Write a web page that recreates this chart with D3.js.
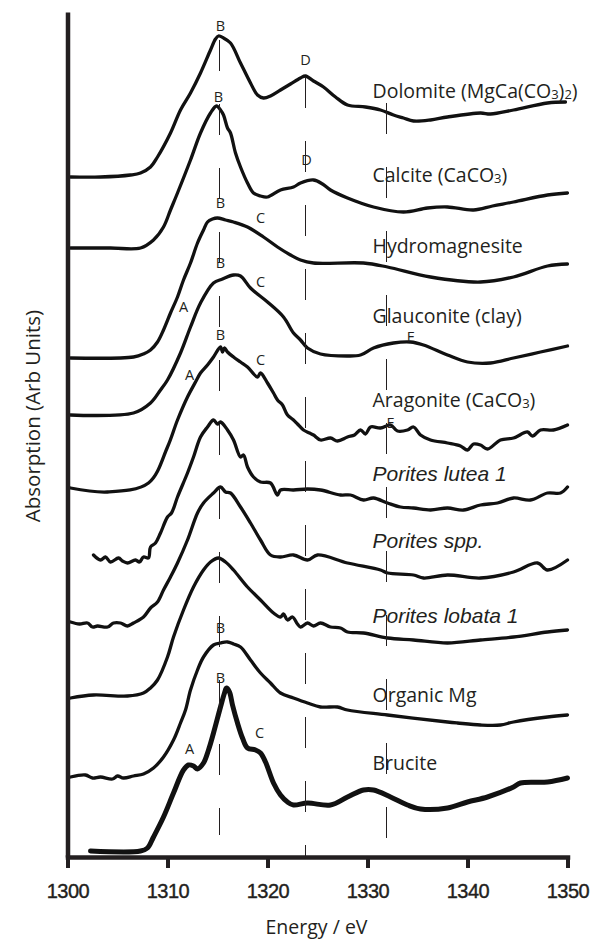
<!DOCTYPE html>
<html>
<head>
<meta charset="utf-8">
<script src="https://cdn.jsdelivr.net/npm/d3@7"></script>
<style>
    html, body { margin: 0; padding: 0; background: #fff; }
    svg { display: block; }
</style>
</head>
<body>
<svg id="chart" width="592" height="939"></svg>
<script>
// Mg K-edge XANES spectra, stacked with offsets (absorption in arb. units).
const energyDomain = [1300, 1350];
const absorptionDomain = [0, 8.45];
const tickValues = [1300, 1310, 1320, 1330, 1340, 1350];

const dolomite = [[1300.3,6.80],[1303.3,6.80],[1306.3,6.82],[1307.3,6.84],[1308.3,6.90],[1309.0,7.00],[1310.3,7.24],[1311.3,7.47],[1312.3,7.64],[1313.3,7.84],[1314.3,8.07],[1314.8,8.18],[1315.1,8.21],[1315.6,8.19],[1316.3,8.14],[1317.3,7.94],[1318.3,7.74],[1319.0,7.62],[1319.6,7.59],[1320.3,7.61],[1321.3,7.67],[1322.3,7.73],[1323.3,7.79],[1323.8,7.81],[1324.6,7.76],[1325.6,7.70],[1326.8,7.60],[1328.0,7.52],[1329.8,7.50],[1331.3,7.47],[1332.6,7.42],[1333.6,7.39],[1334.6,7.36],[1336.3,7.37],[1338.0,7.40],[1341.3,7.44],[1342.3,7.43],[1344.6,7.47],[1348.0,7.54],[1349.8,7.55]];

const calcite = [[1300.3,6.09],[1304.3,6.09],[1307.3,6.09],[1308.6,6.17],[1309.6,6.30],[1310.3,6.47],[1311.0,6.64],[1312.3,6.97],[1313.3,7.24],[1314.3,7.44],[1314.9,7.51],[1315.3,7.47],[1315.6,7.42],[1316.0,7.29],[1316.3,7.24],[1316.8,7.04],[1317.3,6.90],[1318.0,6.74],[1318.6,6.64],[1319.3,6.61],[1320.0,6.60],[1321.3,6.67],[1322.6,6.70],[1323.3,6.74],[1324.6,6.77],[1325.5,6.73],[1326.3,6.67],[1328.0,6.59],[1330.6,6.50],[1333.6,6.45],[1336.0,6.49],[1338.0,6.50],[1340.6,6.47],[1342.5,6.51],[1344.6,6.55],[1348.0,6.62],[1350.0,6.64]];

const hydromagnesite = [[1300.3,4.99],[1306.6,5.00],[1307.6,5.03],[1308.3,5.07],[1309.0,5.15],[1309.6,5.27],[1310.3,5.44],[1311.0,5.60],[1311.6,5.77],[1312.3,5.94],[1313.0,6.14],[1313.6,6.27],[1314.0,6.35],[1314.5,6.38],[1315.0,6.39],[1315.8,6.37],[1316.6,6.35],[1318.0,6.30],[1319.6,6.20],[1321.0,6.10],[1322.3,6.02],[1323.3,5.97],[1324.6,5.94],[1329.6,5.94],[1332.0,5.90],[1336.3,5.80],[1341.3,5.75],[1344.6,5.80],[1348.0,5.91],[1350.0,5.93]];

const glauconite = [[1300.3,4.42],[1306.6,4.44],[1308.3,4.54],[1309.3,4.67],[1310.0,4.77],[1311.3,5.04],[1312.3,5.30],[1313.3,5.54],[1314.6,5.74],[1315.5,5.78],[1316.6,5.82],[1317.3,5.81],[1318.3,5.69],[1320.0,5.55],[1321.6,5.40],[1322.6,5.24],[1323.3,5.17],[1324.0,5.09],[1325.3,5.03],[1328.0,5.01],[1329.3,5.02],[1330.6,5.09],[1332.6,5.14],[1334.3,5.15],[1335.6,5.12],[1338.0,5.02],[1340.0,4.95],[1342.3,4.94],[1344.6,4.99],[1347.3,5.05],[1350.0,5.11]];

const aragonite = [[1300.3,3.69],[1304.0,3.65],[1308.1,3.74],[1310.0,4.10],[1311.0,4.37],[1312.0,4.60],[1312.8,4.75],[1313.3,4.84],[1314.0,4.92],[1314.6,5.00],[1315.3,5.10],[1315.5,5.05],[1315.7,5.09],[1316.0,5.05],[1316.6,5.00],[1317.3,4.95],[1318.0,4.90],[1319.0,4.80],[1319.3,4.84],[1320.0,4.74],[1320.6,4.64],[1321.0,4.57],[1321.5,4.52],[1322.0,4.42],[1322.6,4.37],[1323.0,4.33],[1323.6,4.27],[1324.2,4.24],[1324.6,4.22],[1325.3,4.17],[1326.3,4.19],[1327.0,4.16],[1328.0,4.20],[1328.7,4.22],[1329.3,4.27],[1329.8,4.23],[1330.3,4.30],[1331.3,4.29],[1332.3,4.32],[1333.0,4.26],[1334.0,4.27],[1334.6,4.30],[1335.3,4.22],[1336.3,4.17],[1338.0,4.14],[1339.3,4.11],[1340.0,4.07],[1340.6,4.13],[1341.3,4.12],[1342.0,4.08],[1343.3,4.17],[1344.6,4.19],[1346.0,4.25],[1346.5,4.21],[1347.3,4.27],[1348.6,4.27],[1350.0,4.32]];

const poritesLutea = [[1302.6,3.02],[1303.3,2.97],[1303.8,3.00],[1304.3,2.95],[1305.1,2.99],[1305.5,2.96],[1306.0,2.94],[1306.8,2.97],[1307.2,2.95],[1307.6,3.00],[1308.1,2.99],[1308.3,3.10],[1308.8,3.14],[1309.3,3.24],[1310.0,3.40],[1310.4,3.44],[1311.0,3.60],[1312.0,3.84],[1312.6,4.00],[1313.3,4.20],[1314.0,4.30],[1314.6,4.37],[1315.0,4.33],[1315.3,4.35],[1316.0,4.27],[1316.6,4.17],[1317.3,4.00],[1317.6,4.02],[1318.0,3.90],[1318.6,3.80],[1319.3,3.75],[1320.3,3.74],[1321.0,3.62],[1321.3,3.67],[1322.6,3.67],[1324.0,3.68],[1325.3,3.67],[1327.3,3.62],[1328.3,3.62],[1329.6,3.57],[1330.6,3.59],[1332.0,3.54],[1333.3,3.50],[1334.6,3.49],[1336.3,3.47],[1338.0,3.49],[1339.6,3.47],[1341.3,3.52],[1343.0,3.54],[1344.6,3.59],[1346.3,3.57],[1348.0,3.64],[1349.3,3.64],[1350.0,3.70]];

const poritesSpp = [[1300.3,2.35],[1301.2,2.33],[1302.0,2.34],[1302.5,2.30],[1303.0,2.31],[1304.0,2.30],[1304.6,2.34],[1305.3,2.34],[1306.0,2.31],[1306.6,2.34],[1307.6,2.40],[1308.3,2.49],[1309.0,2.55],[1309.6,2.67],[1310.3,2.80],[1311.0,2.94],[1312.0,3.17],[1313.0,3.44],[1313.6,3.54],[1314.6,3.64],[1315.3,3.70],[1315.8,3.65],[1316.3,3.64],[1317.3,3.50],[1318.3,3.34],[1319.3,3.17],[1320.3,3.02],[1321.3,3.00],[1322.6,3.02],[1324.0,2.97],[1325.0,3.02],[1328.0,2.94],[1331.3,2.87],[1332.0,2.84],[1334.6,2.82],[1335.6,2.79],[1338.0,2.82],[1341.3,2.79],[1344.6,2.85],[1347.0,2.94],[1348.0,2.87],[1350.0,2.97]];

const poritesLobata = [[1300.3,1.59],[1302.6,1.62],[1306.0,1.61],[1307.6,1.64],[1308.3,1.69],[1309.0,1.77],[1310.0,2.00],[1310.6,2.20],[1311.6,2.47],[1312.6,2.70],[1313.6,2.87],[1314.3,2.95],[1315.1,2.99],[1315.8,2.95],[1316.6,2.87],[1318.0,2.70],[1319.3,2.57],[1320.6,2.44],[1321.3,2.40],[1321.6,2.43],[1322.0,2.37],[1322.5,2.40],[1323.0,2.33],[1323.3,2.30],[1324.0,2.34],[1324.6,2.31],[1325.3,2.34],[1326.3,2.30],[1327.3,2.29],[1328.0,2.25],[1329.6,2.24],[1332.0,2.19],[1334.6,2.17],[1338.0,2.14],[1341.3,2.17],[1344.6,2.20],[1348.0,2.25],[1350.0,2.27]];

const organicMg = [[1300.3,0.80],[1301.8,0.82],[1302.5,0.79],[1303.3,0.80],[1304.5,0.78],[1305.0,0.81],[1305.6,0.79],[1306.6,0.81],[1307.6,0.83],[1308.6,0.89],[1309.6,1.00],[1310.6,1.17],[1311.3,1.34],[1311.8,1.47],[1312.3,1.67],[1313.0,1.87],[1313.6,2.00],[1314.6,2.12],[1315.3,2.14],[1316.0,2.15],[1316.6,2.13],[1317.3,2.10],[1318.3,1.97],[1319.3,1.84],[1320.3,1.74],[1321.3,1.64],[1322.6,1.59],[1324.0,1.54],[1325.3,1.50],[1327.0,1.50],[1328.0,1.47],[1332.0,1.42],[1338.0,1.35],[1339.0,1.34],[1341.3,1.32],[1343.3,1.32],[1344.6,1.35],[1348.0,1.40],[1350.0,1.42]];

const brucite = [[1302.3,0.06],[1307.3,0.06],[1308.0,0.09],[1308.6,0.20],[1309.6,0.40],[1310.6,0.64],[1311.6,0.87],[1312.1,0.92],[1312.6,0.91],[1313.0,0.88],[1313.6,0.94],[1314.1,1.07],[1314.6,1.24],[1315.3,1.50],[1315.7,1.64],[1315.9,1.69],[1316.2,1.65],[1316.5,1.52],[1317.0,1.34],[1317.5,1.19],[1318.0,1.09],[1318.8,1.07],[1319.3,1.04],[1319.8,0.95],[1320.6,0.74],[1321.3,0.62],[1322.0,0.55],[1322.6,0.52],[1324.0,0.54],[1326.3,0.52],[1328.0,0.60],[1329.6,0.67],[1330.6,0.67],[1332.3,0.60],[1334.0,0.52],[1335.3,0.48],[1338.0,0.49],[1340.0,0.55],[1342.0,0.60],[1344.6,0.70],[1345.3,0.74],[1348.0,0.75],[1350.0,0.79]];

// Series names and label anchor heights (arb units).
const seriesNames = ["Dolomite", "Calcite", "Hydromagnesite", "Glauconite (clay)", "Aragonite", "Porites lutea 1", "Porites spp.", "Porites lobata 1", "Organic Mg", "Brucite"];
const seriesData = [dolomite, calcite, hydromagnesite, glauconite, aragonite, poritesLutea, poritesSpp, poritesLobata, organicMg, brucite];
const labelLevels = [7.59, 6.75, 6.04, 5.34, 4.50, 3.76, 3.09, 2.34, 1.55, 0.87];

// Feature letters: [letter, energy, absorption]
const featureLabels = [
    ["B", 1315.3, 8.31], ["D", 1323.8, 7.97],
    ["B", 1315.1, 7.60], ["D", 1323.9, 6.97],
    ["B", 1315.3, 6.54], ["C", 1319.3, 6.39],
    ["B", 1315.3, 5.94], ["C", 1319.3, 5.75], ["A", 1311.6, 5.50], ["F", 1334.3, 5.20],
    ["B", 1315.3, 5.22], ["A", 1312.2, 4.82], ["C", 1319.3, 4.97], ["E", 1332.3, 4.34],
    ["B", 1315.3, 2.29],
    ["B", 1315.3, 1.79], ["A", 1312.2, 1.08], ["C", 1319.2, 1.24]
];

// Reference energies with the extent of each dashed guide: [energy, top, bottom]
const guideLines = [[1315.2, 8.17, 0.22], [1323.8, 7.80, 0.0], [1331.9, 7.54, 0.17]];

const svg = d3.select("#chart");
const ink = "#231f20";

const x = d3.scaleLinear().domain(energyDomain).range([67.5, 567.5]);
const y = d3.scaleLinear().domain(absorptionDomain).range([857, 12]);

// Spectra.
const line = d3.line()
    .x((d) => x(d[0]))
    .y((d) => y(d[1]))
    .curve(d3.curveCatmullRom.alpha(0.5));

svg.append("g")
    .selectAll("path")
    .data(seriesData)
    .join("path")
    .attr("d", line)
    .attr("fill", "none")
    .attr("stroke", "#111")
    .attr("stroke-width", (d, i) => (i === 9 ? 5 : 3.3))
    .attr("stroke-linejoin", "round")
    .attr("stroke-linecap", "round");

// Dashed guides at the main features.
svg.append("g")
    .selectAll("line")
    .data(guideLines)
    .join("line")
    .attr("x1", (d) => x(d[0]))
    .attr("x2", (d) => x(d[0]))
    .attr("y1", (d) => y(d[1]))
    .attr("y2", (d) => y(d[2]))
    .attr("stroke", ink)
    .attr("stroke-width", 1)
    .attr("stroke-dasharray", "31,33");

// Feature letters.
svg.append("g")
    .selectAll("text")
    .data(featureLabels)
    .join("text")
    .attr("x", (d) => x(d[1]))
    .attr("y", (d) => y(d[2]))
    .attr("dy", "0.36em")
    .attr("text-anchor", "middle")
    .attr("font-family", "'Open Sans', sans-serif")
    .attr("font-size", 14.5)
    .attr("fill", ink)
    .text((d) => d[0]);

// Series names on the right.
const names = svg.append("g")
    .selectAll("text")
    .data(seriesNames)
    .join("text")
    .attr("x", x(1330.5))
    .attr("y", (d, i) => y(labelLevels[i]))
    .attr("fill", ink)
    .attr("font-family", (d) => d.startsWith("Porites") ? "'Liberation Sans', Arial, sans-serif" : "'Open Sans', sans-serif")
    .attr("font-style", (d) => d.startsWith("Porites") ? "italic" : "normal")
    .attr("font-size", (d) => d.startsWith("Porites") ? 21 : 19.5);

names.each(function (d, i) {
    const t = d3.select(this);
    if (i === 0) {
        t.append("tspan").text("Dolomite (MgCa(CO");
        t.append("tspan").attr("font-size", 13).attr("dy", 1).text("3");
        t.append("tspan").attr("dy", -1).text(")");
        t.append("tspan").attr("font-size", 13).attr("dy", 1).text("2");
        t.append("tspan").attr("dy", -1).text(")");
    } else if (i === 1 || i === 4) {
        t.append("tspan").text(d + " (CaCO");
        t.append("tspan").attr("font-size", 13).attr("dy", 1).text("3");
        t.append("tspan").attr("dy", -1).text(")");
    } else {
        t.text(d);
    }
});

// Axes.
const xAxis = svg.append("g")
    .attr("transform", `translate(0,${y(0)})`)
    .call(d3.axisBottom(x).tickValues(tickValues).tickFormat(d3.format("d")).tickSize(11).tickSizeOuter(0));
xAxis.select(".domain")
    .attr("stroke", ink)
    .attr("stroke-width", 4.5)
    .attr("stroke-linecap", "square");
xAxis.selectAll(".tick line").attr("stroke", ink).attr("stroke-width", 4);
xAxis.selectAll(".tick text")
    .attr("y", 41)
    .attr("dy", 0)
    .attr("fill", ink)
    .attr("stroke", ink)
    .attr("stroke-width", 0.4)
    .attr("letter-spacing", -0.5)
    .attr("font-family", "'Liberation Sans', Arial, sans-serif")
    .attr("font-size", 20);

const yAxis = svg.append("g")
    .attr("transform", `translate(${x(1300)},0)`)
    .call(d3.axisLeft(y).tickValues([]).tickSizeOuter(0));
yAxis.select(".domain")
    .attr("stroke", ink)
    .attr("stroke-width", 4.5);

// Axis titles.
svg.append("text")
    .attr("x", 316.5)
    .attr("y", 934)
    .attr("text-anchor", "middle")
    .attr("font-family", "'Open Sans', sans-serif")
    .attr("font-size", 19.5)
    .attr("fill", ink)
    .text("Energy / eV");

svg.append("text")
    .attr("transform", "translate(40,416) rotate(-90)")
    .attr("text-anchor", "middle")
    .attr("font-family", "'Open Sans', sans-serif")
    .attr("font-size", 20.5)
    .attr("fill", ink)
    .text("Absorption (Arb Units)");
</script>
</body>
</html>
